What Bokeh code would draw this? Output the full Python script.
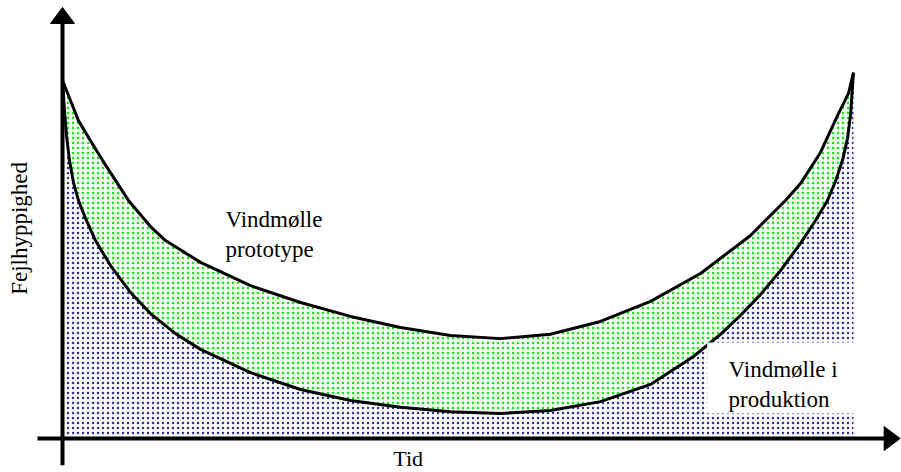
from bokeh.plotting import figure
from bokeh.models import Range1d, Label, BoxAnnotation
from bokeh.embed import file_html
from bokeh.resources import INLINE

# ---- data (schematic "bathtub" failure-rate curves), time 0..100, rate 0..~100 ----
proto_time = [0, 1.01, 2.02, 3.54, 5.06, 6.70, 8.34, 11.13, 13.02, 17.45, 23.77, 30.09,
              36.41, 42.73, 49.05, 55.37, 61.69, 68.01, 74.34, 80.66, 86.98, 91.40,
              93.30, 95.83, 97.98, 99.37, 100]
proto_rate = [100, 94.4, 88.8, 83.2, 77.7, 72.1, 66.5, 59.2, 55.3, 49.2, 42.7, 38.0,
              34.1, 31.0, 28.8, 27.9, 29.1, 32.7, 38.3, 46.1, 56.7, 66.5,
              71.2, 79.9, 90.2, 96.4, 102.2]

prod_time = [0, 0.25, 0.51, 0.88, 1.39, 2.02, 2.91, 4.17, 6.07, 8.60, 11.13, 14.29,
             17.45, 23.77, 30.09, 36.41, 42.73, 49.05, 55.37, 61.69, 68.01, 74.34,
             79.77, 83.19, 85.71, 88.24, 90.77, 93.30, 95.20, 96.71, 97.72, 98.61,
             99.24, 99.62, 100]
prod_rate = [100, 91.6, 84.6, 77.7, 71.5, 66.5, 61.5, 55.3, 48.3, 40.8, 34.9, 29.3,
             24.9, 18.4, 13.7, 10.6, 8.7, 7.5, 7.0, 7.8, 10.3, 15.1,
             22.9, 29.1, 34.4, 40.2, 46.9, 54.5, 60.9, 66.5, 71.8, 77.7,
             83.8, 90.2, 102.2]

y_title = "Fejlhyppighed"
x_title = "Tid"
proto_label = "Vindmølle\nprototype"
prod_label = "Vindmølle i\nproduktion"

FONT = "Liberation Serif"
W, H = 901, 472
X0, X1 = -7.838, 106.07
Y0, Y1 = -9.497, 122.35
px_x = (X1 - X0) / W   # data units per pixel
px_y = (Y1 - Y0) / H

p = figure(width=W, height=H,
           x_range=Range1d(X0, X1), y_range=Range1d(Y0, Y1),
           output_backend="svg", toolbar_location=None,
           min_border=0, min_border_left=0, min_border_right=0,
           min_border_top=0, min_border_bottom=0)
p.axis.visible = False
p.grid.visible = False
p.outline_line_color = None
p.background_fill_color = "white"
p.border_fill_color = "white"

# blue dotted area under production curve
p.varea(x=prod_time, y1=[0] * len(prod_time), y2=prod_rate,
        fill_color="white", hatch_pattern="dot", hatch_color="#30309c",
        hatch_scale=5, hatch_weight=2)

# green dotted band between the curves
band_x = proto_time + prod_time[::-1]
band_y = proto_rate + prod_rate[::-1]
p.patch(x=band_x, y=band_y, fill_color="white", line_color=None,
        hatch_pattern="dot", hatch_color="#00f000", hatch_scale=5, hatch_weight=2)

# white box behind the production label
p.add_layout(BoxAnnotation(left=81.5, right=100.3, top=26.8, bottom=7.0,
                           fill_color="white", fill_alpha=1.0, line_color=None))

# curves
p.line(proto_time, proto_rate, line_width=3, line_color="black", line_join="round")
p.line(prod_time, prod_rate, line_width=3, line_color="black", line_join="round")

# axes lines
y_axis_top = 116.5
x_axis_end = 104.0
p.segment(x0=[0, -3.16], y0=[-7.5, 0], x1=[0, x_axis_end], y1=[y_axis_top, 0],
          line_width=4, line_color="black")
# arrow heads (24 px wide, 16 px long)
hw_x, hl_y = 12 * px_x, 16 * px_y
hw_y, hl_x = 12 * px_y, 16 * px_x
tip_y = 120.4
tip_x = 105.9
p.patches(xs=[[0, -hw_x, hw_x], [tip_x, tip_x - hl_x, tip_x - hl_x]],
          ys=[[tip_y, tip_y - hl_y, tip_y - hl_y], [0, hw_y, -hw_y]],
          fill_color="black", line_color="black", line_width=1)

# texts
p.add_layout(Label(x=-5.44, y=58.7, text=y_title, angle=1.5708,
                   text_font=FONT, text_font_size="23px", text_color="black",
                   text_align="center", text_baseline="middle"))
p.add_layout(Label(x=43.7, y=-2.23, text=x_title,
                   text_font=FONT, text_font_size="22px", text_color="black",
                   text_align="center", text_baseline="top"))
p.add_layout(Label(x=20.6, y=64.8, text=proto_label,
                   text_font=FONT, text_font_size="23px", text_color="black",
                   text_align="left", text_baseline="top", text_line_height=1.2))
p.add_layout(Label(x=84.2, y=22.9, text=prod_label,
                   text_font=FONT, text_font_size="23px", text_color="black",
                   text_align="left", text_baseline="top", text_line_height=1.2))

open("out.html", "w").write(file_html(p, INLINE))
